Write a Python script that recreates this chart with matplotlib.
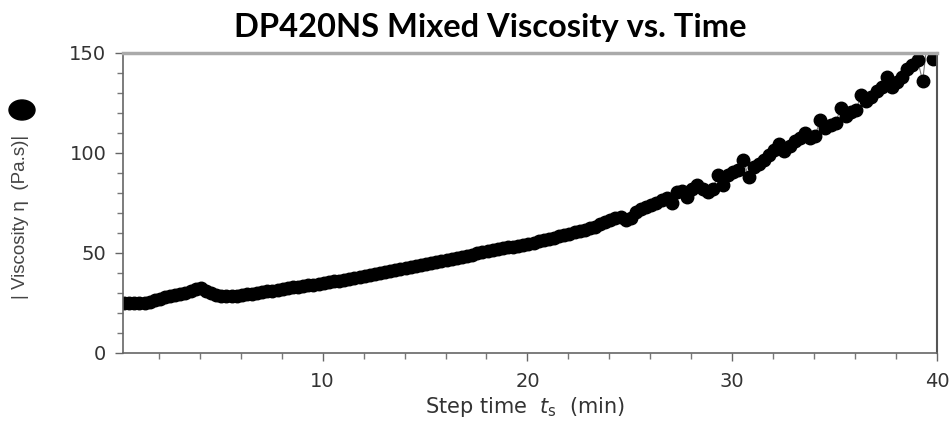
import numpy as np
import matplotlib.pyplot as plt
from matplotlib.patches import Ellipse
from matplotlib.ticker import MultipleLocator

# step time grid of the rheometer (min), one reading every 0.25 min
t_start = 0.3
t_step = 0.25

viscosity = [
    25.0, 24.9, 25.0, 25.0, 25.2, 25.6, 26.4, 27.2,
    27.8, 28.3, 28.8, 29.5, 30.2, 31.0, 31.8, 32.6,
    31.2, 29.9, 29.0, 28.6, 28.4, 28.4, 28.6, 28.9,
    29.3, 29.6, 30.0, 30.4, 30.8, 31.2, 31.6, 32.0,
    32.4, 32.8, 33.1, 33.4, 33.8, 34.2, 34.6, 35.0,
    35.4, 35.8, 36.2, 36.6, 37.0, 37.5, 37.9, 38.3,
    38.8, 39.3, 39.8, 40.3, 40.8, 41.3, 41.8, 42.3,
    42.8, 43.3, 43.8, 44.3, 44.8, 45.3, 45.8, 46.4,
    47.0, 47.5, 48.0, 48.6, 49.2, 49.8, 50.3, 50.8,
    51.3, 51.8, 52.3, 52.8, 53.2, 53.7, 54.1, 54.6,
    55.1, 55.8, 56.4, 57.0, 57.6, 58.3, 59.0, 59.6,
    60.4, 61.0, 61.6, 62.3, 63.2, 64.5, 65.6, 66.5,
    67.6, 68.2, 66.6, 67.6, 70.5, 72.0, 73.0, 74.0,
    75.2, 76.3, 77.5, 75.0, 80.5, 81.2, 78.0, 82.0,
    84.0, 82.0, 80.3, 82.0, 89.0, 84.0, 88.8, 90.5,
    91.5, 96.5, 88.0, 93.0, 94.5, 96.5, 99.0, 101.5,
    104.5, 101.0, 103.5, 106.0, 107.6, 110.0, 107.6, 108.5,
    116.7, 112.6, 114.0, 115.0, 122.7, 118.7, 120.5, 121.7,
    129.0, 126.0, 128.0, 131.0, 133.0, 138.0, 133.0, 135.5,
    138.0, 142.0, 144.0, 146.5, 136.0, 158.0, 147.0, 147.0,
]
step_time = t_start + t_step * np.arange(len(viscosity))

x_ticks = [10, 20, 30, 40]
y_ticks = [0, 50, 100, 150]

W, H = 953, 421
fig = plt.figure(figsize=(W / 100, H / 100), dpi=100)
ax = fig.add_axes([123 / W, 1 - 353 / H, (937 - 123) / W, (353 - 53) / H])

ax.plot(step_time, viscosity, color='#777777', lw=0.8, marker='o',
        markersize=9, markerfacecolor='black', markeredgecolor='black')

ax.set_xlim(0.25, 40)
ax.set_ylim(0, 150)
ax.set_xticks(x_ticks)
ax.set_yticks(y_ticks)
ax.xaxis.set_minor_locator(MultipleLocator(2))
ax.yaxis.set_minor_locator(MultipleLocator(10))

tick_font = 'DejaVu Sans'
for lab in ax.get_xticklabels() + ax.get_yticklabels():
    lab.set_fontfamily(tick_font)
ax.tick_params(which='major', length=6, width=1, color='#666666',
               labelsize=14, labelcolor='#333333')
ax.tick_params(axis='x', which='major', pad=8)
ax.tick_params(axis='y', which='major', pad=6)
ax.tick_params(which='minor', length=4, width=1, color='#777777')

for s in ['left', 'bottom']:
    ax.spines[s].set_color('#666666')
    ax.spines[s].set_linewidth(1.2)
ax.spines['top'].set_color('#aaaaaa')
ax.spines['top'].set_linewidth(2.5)
ax.spines['right'].set_color('#555555')
ax.spines['right'].set_linewidth(1.5)

fig.text(490 / W, 1 - 28 / H, 'DP420NS Mixed Viscosity vs. Time',
         ha='center', va='center', fontsize=23.5, fontweight='bold',
         family='Lato', color='black')

fig.text(21 / W, 1 - 217 / H, '| Viscosity η  (Pa.s)|', rotation=90,
         ha='center', va='center', fontsize=13.5, family='Liberation Sans',
         color='#444444')
fig.add_artist(Ellipse((22 / W, 1 - 110 / H), 26 / W, 20 / H,
                       color='black', transform=fig.transFigure))

fig.text(525 / W, 1 - 407 / H, r'Step time  $t_{\rm s}$  (min)',
         ha='center', va='center', fontsize=15, family=tick_font,
         color='#333333')

fig.savefig('out.png', dpi=100)
